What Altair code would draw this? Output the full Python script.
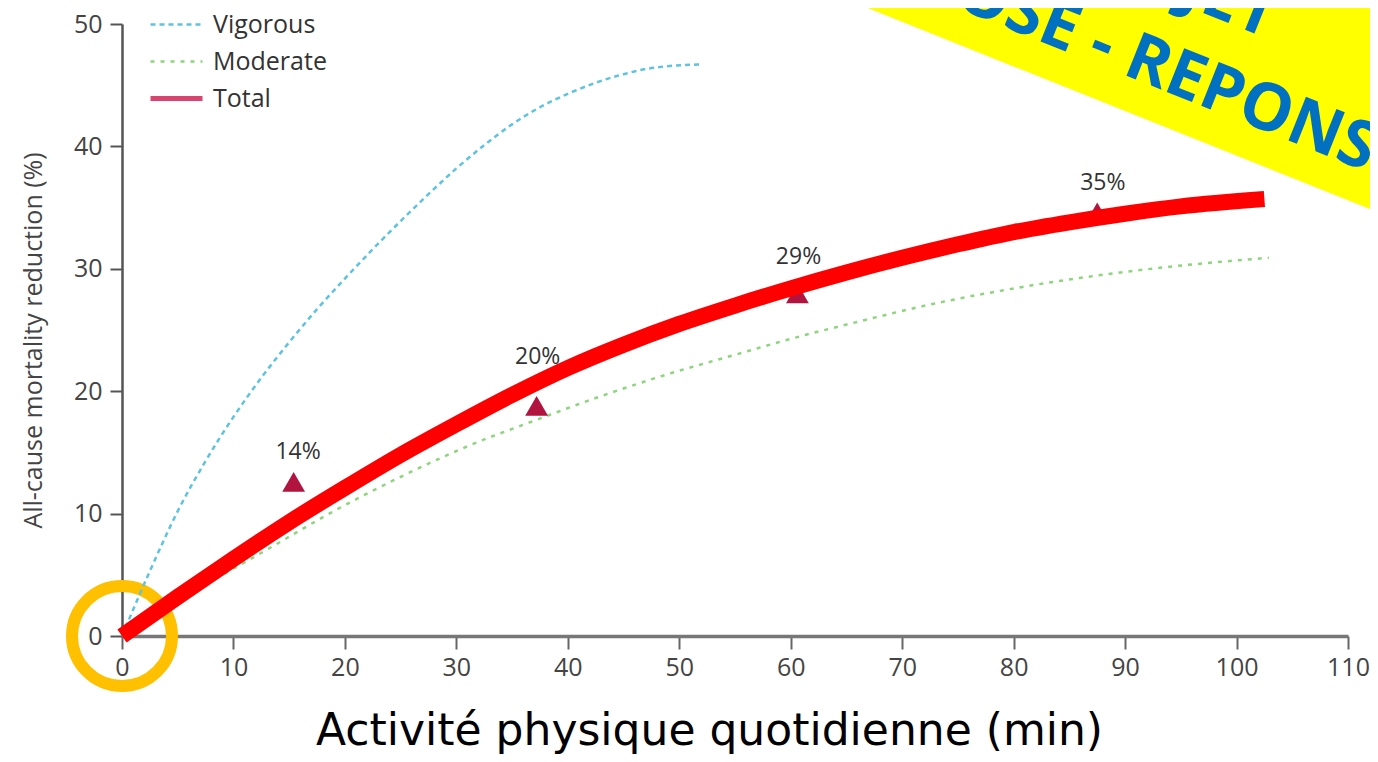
import altair as alt
import pandas as pd

# ---------------- data ----------------
x_ticks = [0, 10, 20, 30, 40, 50, 60, 70, 80, 90, 100, 110]
y_ticks = [0, 10, 20, 30, 40, 50]

series_names = ["Vigorous", "Moderate", "Total"]

vig_x = [0, 2.5, 5, 7.5, 10, 12.5, 15, 17.5, 20, 22.5, 25, 27.5, 30, 32.5, 35, 37.5, 40, 42.5, 45, 47.5, 52]
vig_y = [0, 5.3, 10.2, 14.3, 17.9, 21.1, 24.0, 26.7, 29.2, 31.6, 33.9, 36.1, 38.2, 40.1, 41.8, 43.2, 44.3, 45.2, 45.9, 46.4, 46.7]

mod_x = [0, 6.0, 12.9, 19.0, 25.0, 31.0, 37.0, 43.0, 49.0, 55.1, 60.5, 65.7, 72.6, 79.4, 86.3, 93.3, 102.9]
mod_y = [0, 3.4, 7.0, 10.2, 13.0, 15.5, 17.6, 19.6, 21.4, 23.0, 24.4, 25.6, 27.1, 28.3, 29.3, 30.1, 30.9]

tot_x = [0, 5, 10, 15, 20, 25, 30, 35, 40, 45, 50, 55, 60, 65, 70, 75, 80, 85, 90, 95, 102.5]
tot_y = [0, 3.2, 6.3, 9.3, 12.1, 14.8, 17.3, 19.7, 21.9, 23.8, 25.5, 27.0, 28.4, 29.7, 30.9, 32.0, 33.0, 33.8, 34.5, 35.1, 35.7]

pt_x = [15.4, 37.2, 60.6, 87.5]
pt_y = [12.6, 18.8, 28.0, 34.6]
pt_label = ["14%", "20%", "29%", "35%"]
label_x = [15.8, 37.3, 60.7, 88.0]
label_y = [15.0, 22.8, 31.0, 37.0]

banner_lines = ["PROJET", "PROPOSE - REPONSE"]

# ---------------- tables ----------------
lines_df = pd.DataFrame(
    {"x": vig_x + mod_x,
     "y": vig_y + mod_y,
     "series": ["Vigorous"] * len(vig_x) + ["Moderate"] * len(mod_x)}
)
total_df = pd.DataFrame({"x": tot_x, "y": tot_y})
pts_df = pd.DataFrame({"x": pt_x, "y": pt_y})
lab_df = pd.DataFrame({"x": label_x, "y": label_y, "t": pt_label})
origin_df = pd.DataFrame({"x": [0], "y": [0]})

FONT = "Open Sans"

x_axis = alt.Axis(
    values=x_ticks, grid=False, labelFlush=False, labelOverlap=False,
    title="Activité physique quotidienne (min)", titleFont="DejaVu Sans",
    titleFontSize=44, titleFontWeight="normal", titleColor="#000000",
    titleX=587, titleY=108, titleAlign="center", titleBaseline="alphabetic",
    labelFont=FONT, labelFontSize=25, labelColor="#444444", labelPadding=6,
    tickSize=13, tickWidth=2, tickColor="#666666",
    domainColor="#777777", domainWidth=3.5,
)
y_axis = alt.Axis(
    values=y_ticks, grid=False, labelFlush=False, labelOverlap=False,
    title="All-cause mortality reduction (%)", titleFont=FONT,
    titleFontSize=25, titleFontWeight="normal", titleColor="#444444",
    titleX=-89, titleY=316, titleAngle=270, titleAlign="center", titleBaseline="middle",
    labelFont=FONT, labelFontSize=25, labelColor="#444444", labelPadding=8,
    tickSize=12, tickWidth=2, tickColor="#555555",
    domainColor="#555555", domainWidth=2.5,
)


def X():
    return alt.X("x:Q", scale=alt.Scale(domain=[0, 110], nice=False, zero=False), axis=x_axis)


def Y():
    return alt.Y("y:Q", scale=alt.Scale(domain=[0, 50], nice=False, zero=False), axis=y_axis)


legend = alt.Legend(
    title=None, orient="none", legendX=26, legendY=-18, padding=0,
    symbolType="stroke", symbolSize=2704, labelFont=FONT, labelFontSize=25,
    labelColor="#333333", labelOffset=8, rowPadding=0, clipHeight=37,
)

ring = alt.Chart(origin_df).mark_point(
    shape="circle", filled=False, size=10000, strokeWidth=12, color="#ffc000", opacity=1
).encode(x=X(), y=Y())

dashed = alt.Chart(lines_df).mark_line(interpolate="monotone").encode(
    x=X(), y=Y(),
    color=alt.Color("series:N", scale=alt.Scale(domain=series_names,
                    range=["#5ec3df", "#8fd47e", "#d84470"]), legend=legend),
    strokeDash=alt.StrokeDash("series:N", scale=alt.Scale(domain=series_names,
                              range=[[5, 4], [4, 6], [1, 0]]), legend=legend),
    strokeWidth=alt.StrokeWidth("series:N", scale=alt.Scale(type="ordinal", domain=series_names,
                                range=[2.5, 2.5, 5]), legend=legend),
    order=alt.Order("x:Q"),
)

tri = alt.Chart(pts_df).mark_point(
    shape="triangle-up", filled=True, size=520, color="#b1143f", opacity=1
).encode(x=X(), y=Y())

total = alt.Chart(total_df).mark_line(
    interpolate="monotone", color="#ff0000", strokeWidth=16, strokeCap="butt"
).encode(x=X(), y=Y(), order=alt.Order("x:Q"))

labels = alt.Chart(lab_df).mark_text(
    font=FONT, fontSize=23, color="#333333", baseline="middle", align="center"
).encode(x=X(), y=Y(), text="t:N")

one = pd.DataFrame({"a": [0]})
band = alt.Chart(one).mark_rule(color="#ffff00", strokeWidth=320, strokeCap="butt").encode(
    x=alt.value(507), y=alt.value(-284), x2=alt.value(1713), y2=alt.value(199)
)
banner_txt1 = alt.Chart(pd.DataFrame({"t": [banner_lines[1]]})).mark_text(
    angle=21.8, font=FONT, fontWeight="bold", fontSize=66, color="#0070c0",
    align="center", baseline="middle"
).encode(text="t:N", x=alt.value(979), y=alt.value(20))
banner_txt0 = alt.Chart(pd.DataFrame({"t": [banner_lines[0]]})).mark_text(
    angle=21.8, font=FONT, fontWeight="bold", fontSize=66, color="#0070c0",
    align="right", baseline="middle"
).encode(text="t:N", x=alt.value(1153), y=alt.value(-4))

chart = alt.layer(ring, dashed, tri, total, labels, band, banner_txt1, banner_txt0).properties(
    width=1226, height=612,
    autosize=alt.AutoSizeParams(type="none"),
    padding={"left": 114, "top": 16, "right": 22, "bottom": 118},
).configure_view(stroke=None)

chart.save("out.html", embed_options={"renderer": "svg", "actions": False})
